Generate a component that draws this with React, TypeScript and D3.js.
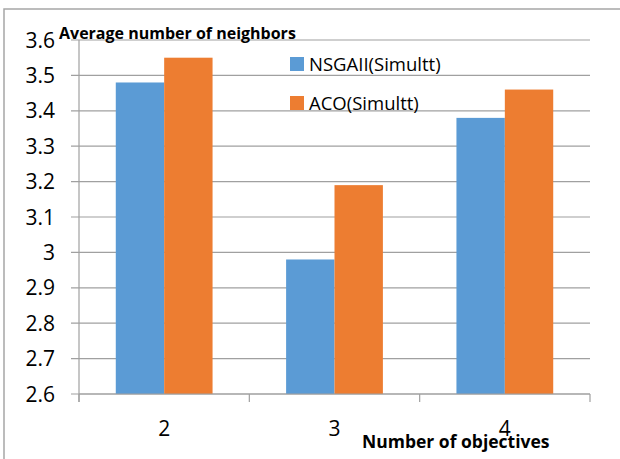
import React, { useRef, useEffect } from 'react';
import * as d3 from 'd3';

// values
const categories = ['2', '3', '4'];
const seriesNames = ['NSGAII(Simultt)', 'ACO(Simultt)'];
const nsgaValues = [3.48, 2.98, 3.38];
const acoValues = [3.55, 3.19, 3.46];
const yTicks = [2.6, 2.7, 2.8, 2.9, 3, 3.1, 3.2, 3.3, 3.4, 3.5, 3.6];
const colors = ['#5b9bd5', '#ed7d31'];

const FONT = "'Open Sans', 'Noto Sans', sans-serif";

const App: React.FC = () => {
  const ref = useRef<SVGSVGElement | null>(null);

  useEffect(() => {
    if (!ref.current) return;
    const svg = d3.select(ref.current);
    svg.selectAll('*').remove();

    const width = 620;
    const height = 459;
    const plot = { left: 79, right: 590, top: 40, bottom: 394 };

    svg.attr('width', width).attr('height', height);

    // outer frame (only the top and left edges are visible)
    svg.append('rect')
      .attr('x', 4).attr('y', 9)
      .attr('width', 700).attr('height', 600)
      .attr('fill', '#fff')
      .attr('stroke', '#a6a6a6')
      .attr('stroke-width', 1.5);

    const y = d3.scaleLinear().domain([2.6, 3.6]).range([plot.bottom, plot.top]);
    const x0 = d3.scaleBand<string>().domain(categories).range([plot.left, plot.right]);
    const bw = x0.bandwidth();
    const x1 = d3.scaleBand<string>().domain(seriesNames).range([0, bw]).paddingInner(0).paddingOuter(0.76);

    // gridlines
    svg.append('g')
      .selectAll('line')
      .data(yTicks)
      .join('line')
      .attr('x1', plot.left - 8)
      .attr('x2', plot.right)
      .attr('y1', d => y(d))
      .attr('y2', d => y(d))
      .attr('stroke', '#a0a0a0')
      .attr('stroke-width', 1.2);

    // y labels
    svg.append('g')
      .selectAll('text')
      .data(yTicks)
      .join('text')
      .attr('x', 55)
      .attr('y', d => y(d))
      .attr('dy', '0.36em')
      .attr('text-anchor', 'end')
      .attr('font-family', FONT)
      .attr('font-size', 21)
      .attr('fill', '#000')
      .text(d => d3.format('')(d));

    // y axis line
    svg.append('line')
      .attr('x1', plot.left).attr('x2', plot.left)
      .attr('y1', plot.top).attr('y2', plot.bottom + 8)
      .attr('stroke', '#a0a0a0').attr('stroke-width', 1.2);

    // bars
    const data = categories.map((c, i) => ({ c, vals: [nsgaValues[i], acoValues[i]] }));
    const groups = svg.append('g')
      .selectAll('g')
      .data(data)
      .join('g')
      .attr('transform', d => `translate(${x0(d.c)},0)`);

    groups.selectAll('rect')
      .data(d => d.vals.map((v, k) => ({ name: seriesNames[k], v, k })))
      .join('rect')
      .attr('x', d => x1(d.name)!)
      .attr('width', x1.bandwidth())
      .attr('y', d => y(d.v))
      .attr('height', d => y(2.6) - y(d.v))
      .attr('fill', d => colors[d.k]);

    // x axis line and ticks
    svg.append('line')
      .attr('x1', plot.left).attr('x2', plot.right)
      .attr('y1', plot.bottom).attr('y2', plot.bottom)
      .attr('stroke', '#a0a0a0').attr('stroke-width', 1.2);

    const tickXs = categories.map(c => x0(c)!).concat([plot.right]);
    svg.append('g')
      .selectAll('line')
      .data(tickXs)
      .join('line')
      .attr('x1', d => d).attr('x2', d => d)
      .attr('y1', plot.bottom).attr('y2', plot.bottom + 8)
      .attr('stroke', '#a0a0a0').attr('stroke-width', 1.2);

    // category labels
    svg.append('g')
      .selectAll('text')
      .data(categories)
      .join('text')
      .attr('x', d => x0(d)! + bw / 2)
      .attr('y', 436)
      .attr('text-anchor', 'middle')
      .attr('font-family', FONT)
      .attr('font-size', 21)
      .attr('fill', '#000')
      .text(d => d);

    // legend
    const legend = svg.append('g');
    seriesNames.forEach((name, i) => {
      const ly = 64 + i * 39;
      legend.append('rect')
        .attr('x', 290).attr('y', ly - 7)
        .attr('width', 14).attr('height', 14)
        .attr('fill', colors[i]);
      legend.append('text')
        .attr('x', 309).attr('y', ly)
        .attr('dy', '0.36em')
        .attr('font-family', FONT)
        .attr('font-size', 18.5)
        .attr('fill', '#000')
        .text(name);
    });

    // titles
    svg.append('text')
      .attr('x', 59).attr('y', 39)
      .attr('font-family', FONT)
      .attr('font-weight', 'bold')
      .attr('font-size', 16)
      .attr('fill', '#000')
      .text('Average number of neighbors');

    svg.append('text')
      .attr('x', 362).attr('y', 448)
      .attr('font-family', FONT)
      .attr('font-weight', 'bold')
      .attr('font-size', 17.5)
      .attr('fill', '#000')
      .text('Number of objectives');
  }, []);

  return <svg ref={ref} style={{ position: 'absolute', left: 0, top: 0 }}></svg>;
};

export default App;
